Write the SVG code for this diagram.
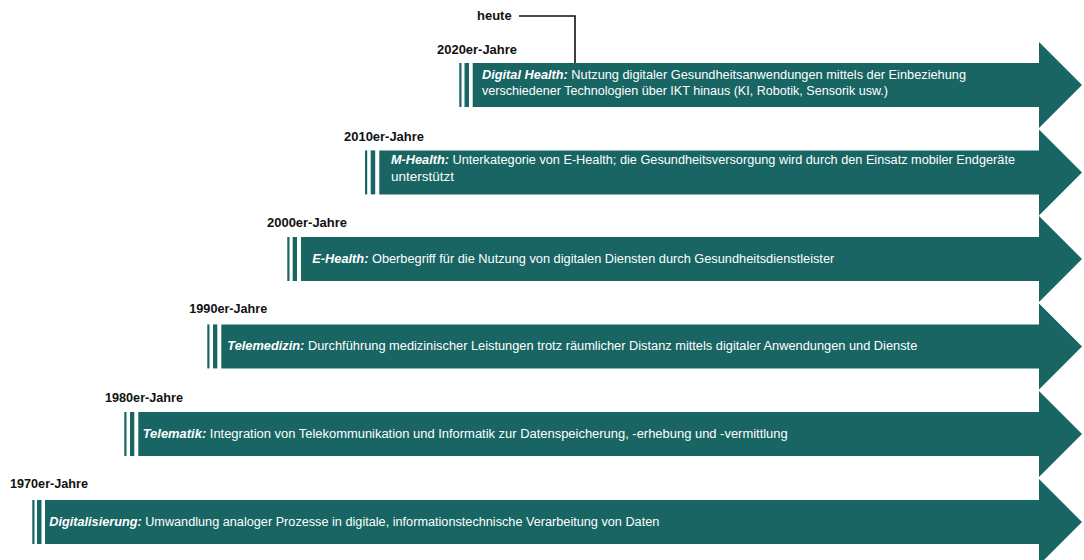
<svg xmlns="http://www.w3.org/2000/svg" width="1084" height="560" viewBox="0 0 1084 560">
<style>
.ar{fill:#186563}
.st{fill:#186563}
.yr{font-family:"Liberation Sans",Arial,sans-serif;font-weight:bold;font-size:13px;fill:#111}
.tx{font-family:"Liberation Sans",Arial,sans-serif;font-size:12.5px;fill:#ffffff}
.hd{font-weight:bold;font-style:italic}
.ln{fill:none;stroke:#111;stroke-width:1.6}
</style>
<rect width="1084" height="560" fill="#ffffff"/>
<g id="connectors">
<polyline class="ln" points="519,16 575,16 575,63"/>
</g>
<g id="heute">
<text class="yr" x="477" y="20">heute</text>
</g>
<g id="row-2020">
<text class="yr" x="437" y="54" textLength="80" lengthAdjust="spacingAndGlyphs">2020er-Jahre</text>
<rect class="st" x="459.3" y="63" width="2.2" height="44"/>
<rect class="st" x="464.5" y="63" width="4.5" height="44"/>
<path class="ar" d="M472.7,63 H1039 V42 L1082,85 L1039,128 V107 H472.7 Z"/>
<text class="tx" x="482" y="79" textLength="484" lengthAdjust="spacingAndGlyphs"><tspan class="hd">Digital Health:</tspan> Nutzung digitaler Gesundheitsanwendungen mittels der Einbeziehung</text>
<text class="tx" x="482" y="95" textLength="406" lengthAdjust="spacingAndGlyphs">verschiedener Technologien über IKT hinaus (KI, Robotik, Sensorik usw.)</text>
</g>
<g id="row-2010">
<text class="yr" x="344" y="141" textLength="80" lengthAdjust="spacingAndGlyphs">2010er-Jahre</text>
<rect class="st" x="365" y="150.4" width="2.2" height="44"/>
<rect class="st" x="370.7" y="150.4" width="4.5" height="44"/>
<path class="ar" d="M379.3,150.4 H1039 V129.4 L1082,172.4 L1039,215.4 V194.4 H379.3 Z"/>
<text class="tx" x="391" y="164.3" textLength="624" lengthAdjust="spacingAndGlyphs"><tspan class="hd">M-Health:</tspan> Unterkategorie von E-Health; die Gesundheitsversorgung wird durch den Einsatz mobiler Endgeräte</text>
<text class="tx" x="391" y="180.7" textLength="63" lengthAdjust="spacingAndGlyphs">unterstützt</text>
</g>
<g id="row-2000">
<text class="yr" x="267" y="227" textLength="80" lengthAdjust="spacingAndGlyphs">2000er-Jahre</text>
<rect class="st" x="287.3" y="237" width="2.2" height="44"/>
<rect class="st" x="292.7" y="237" width="4.3" height="44"/>
<path class="ar" d="M301,237 H1039 V216 L1082,259 L1039,302 V281 H301 Z"/>
<text class="tx" x="312.3" y="263" textLength="522" lengthAdjust="spacingAndGlyphs"><tspan class="hd">E-Health:</tspan> Oberbegriff für die Nutzung von digitalen Diensten durch Gesundheitsdienstleister</text>
</g>
<g id="row-1990">
<text class="yr" x="189.3" y="313" textLength="78" lengthAdjust="spacingAndGlyphs">1990er-Jahre</text>
<rect class="st" x="207.3" y="324.4" width="2.2" height="44"/>
<rect class="st" x="213" y="324.4" width="4.3" height="44"/>
<path class="ar" d="M221.3,324.4 H1039 V303.4 L1082,346.4 L1039,389.4 V368.4 H221.3 Z"/>
<text class="tx" x="227.3" y="350.4" textLength="690" lengthAdjust="spacingAndGlyphs"><tspan class="hd">Telemedizin:</tspan> Durchführung medizinischer Leistungen trotz räumlicher Distanz mittels digitaler Anwendungen und Dienste</text>
</g>
<g id="row-1980">
<text class="yr" x="105" y="402" textLength="78" lengthAdjust="spacingAndGlyphs">1980er-Jahre</text>
<rect class="st" x="124.3" y="412" width="2.2" height="44"/>
<rect class="st" x="130" y="412" width="4.3" height="44"/>
<path class="ar" d="M138.3,412 H1039 V391 L1082,434 L1039,477 V456 H138.3 Z"/>
<text class="tx" x="142.7" y="438" textLength="645" lengthAdjust="spacingAndGlyphs"><tspan class="hd">Telematik:</tspan> Integration von Telekommunikation und Informatik zur Datenspeicherung, -erhebung und -vermittlung</text>
</g>
<g id="row-1970">
<text class="yr" x="10" y="488" textLength="78" lengthAdjust="spacingAndGlyphs">1970er-Jahre</text>
<rect class="st" x="32.3" y="500" width="2.2" height="44"/>
<rect class="st" x="37" y="500" width="4.5" height="44"/>
<path class="ar" d="M45,500 H1039 V479 L1082,522 L1039,565 V544 H45 Z"/>
<text class="tx" x="49.3" y="525.5" textLength="610" lengthAdjust="spacingAndGlyphs"><tspan class="hd">Digitalisierung:</tspan> Umwandlung analoger Prozesse in digitale, informationstechnische Verarbeitung von Daten</text>
</g>
</svg>
